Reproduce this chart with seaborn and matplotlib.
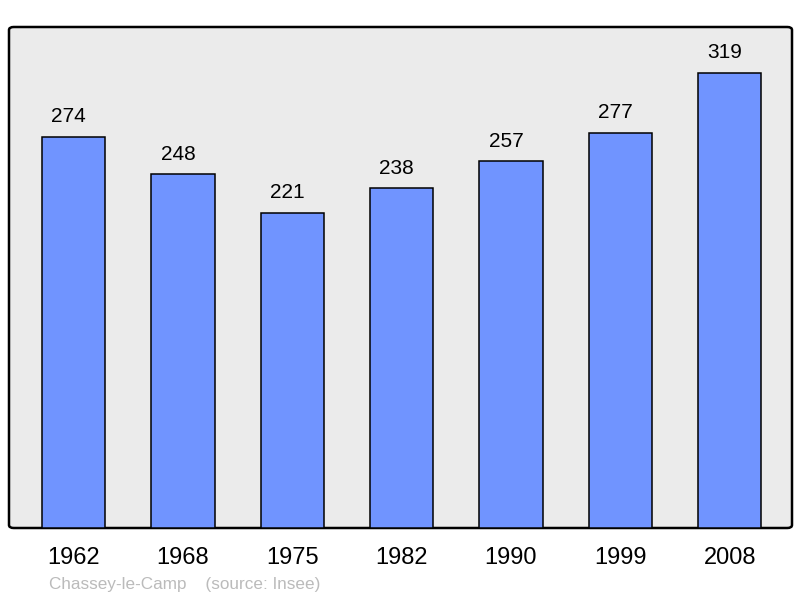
import matplotlib
matplotlib.use('Agg')
import matplotlib.pyplot as plt
from matplotlib.patches import FancyBboxPatch
import seaborn as sns
import pandas as pd

years = ['1962', '1968', '1975', '1982', '1990', '1999', '2008']
population = [274, 248, 221, 238, 257, 277, 319]

BAR_COLOR = '#7094FF'
BG_COLOR = '#EBEBEB'

sns.set_style('white')
plt.rcParams['font.family'] = ['Liberation Sans', 'DejaVu Sans']

df = pd.DataFrame({'year': years, 'population': population})

fig = plt.figure(figsize=(8, 5.98), dpi=100)
ax = fig.add_axes([9 / 800, 1 - 528 / 598, 783 / 800, 501 / 598])

sns.barplot(data=df, x='year', y='population', color=BAR_COLOR, width=0.58,
            edgecolor='black', linewidth=1.1, saturation=1, ax=ax, zorder=2)

ax.set_xlim(-0.59, 6.57)
ax.set_ylim(0, 351)

# label each bar with its value (sits a little left of centre in the original)
for i, value in enumerate(df['population']):
    ax.annotate(str(value), (i, value), xytext=(-3.5, 7.5), textcoords='offset points',
                ha='center', va='bottom', fontsize=15, color='black')

# rounded frame with grey background instead of the standard spines
ax.patch.set_visible(False)
for s in ax.spines.values():
    s.set_visible(False)
frame = FancyBboxPatch((0, 0), 1, 1, boxstyle='round,pad=0,rounding_size=0.006',
                       transform=ax.transAxes, facecolor=BG_COLOR, edgecolor='black',
                       linewidth=1.8, zorder=0, clip_on=False)
ax.add_patch(frame)

ax.set_xlabel('')
ax.set_ylabel('')
ax.set_yticks([])
ax.tick_params(axis='x', length=0, pad=14, labelsize=17, colors='black')

fig.text(49 / 800, 1 - 584 / 598, 'Chassey-le-Camp    (source: Insee)',
         fontsize=12.3, color='#BBBBBB', ha='left', va='center')

fig.savefig('out.png', dpi=100)
